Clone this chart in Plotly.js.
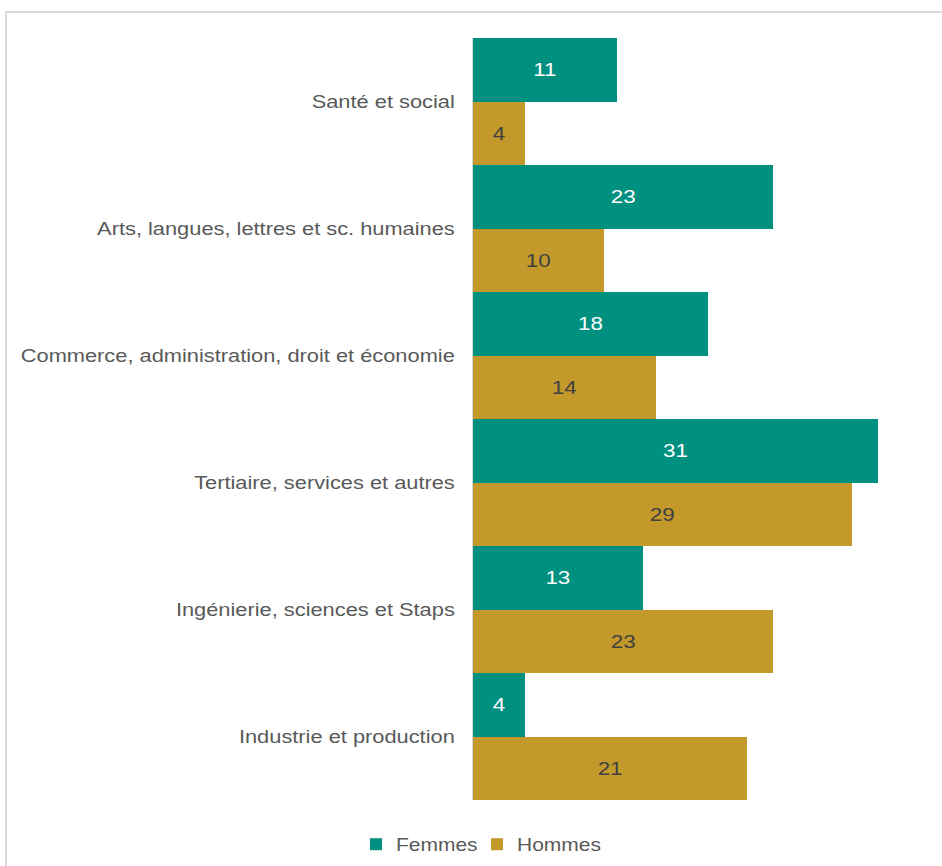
<!DOCTYPE html>
<html>
<head>
<meta charset="utf-8">
<script src="https://cdn.plot.ly/plotly-3.0.1.min.js"></script>
<style>
html,body{margin:0;padding:0;background:#fff;overflow:hidden;}
#frame{position:absolute;left:5px;top:11px;width:960px;height:900px;border:2px solid #d9d9d9;box-sizing:border-box;}
#chart{position:absolute;left:0;top:0;width:942px;height:866px;}
</style>
</head>
<body>
<div id="frame"></div>
<div id="chart"></div>
<script>
const categories = [
  "Santé et social",
  "Arts, langues, lettres et sc. humaines",
  "Commerce, administration, droit et économie",
  "Tertiaire, services et autres",
  "Ingénierie, sciences et Staps",
  "Industrie et production"
];
const femmes = [11, 23, 18, 31, 13, 4];
const hommes = [4, 10, 14, 29, 23, 21];
const seriesNames = ["Femmes", "Hommes"];

const font = "Liberation Sans, Arial, sans-serif";

const traces = [
  {
    type: "bar", orientation: "h", name: seriesNames[0],
    y: categories, x: femmes,
    marker: {color: "#00907F"},
    text: femmes.map(String), textposition: "inside", insidetextanchor: "middle",
    textfont: {color: "#ffffff", size: 19, family: font},
    hoverinfo: "x+name"
  },
  {
    type: "bar", orientation: "h", name: seriesNames[1],
    y: categories, x: hommes,
    marker: {color: "#C3992B"},
    text: hommes.map(String), textposition: "inside", insidetextanchor: "middle",
    textfont: {color: "#404040", size: 19, family: font},
    hoverinfo: "x+name"
  }
];

const layout = {
  width: 942, height: 866,
  margin: {l: 473, r: 12, t: 38, b: 66, pad: 0},
  paper_bgcolor: "rgba(0,0,0,0)",
  plot_bgcolor: "rgba(0,0,0,0)",
  barmode: "group", bargap: 0, bargroupgap: 0,
  font: {family: font, color: "#595959", size: 18},
  xaxis: {range: [0, 35], showgrid: false, zeroline: false, showticklabels: false, showline: false, ticks: ""},
  yaxis: {
    autorange: "reversed", showgrid: false, zeroline: false,
    showline: true, linecolor: "#d9d9d9", linewidth: 1.5,
    ticks: "", ticklabelstandoff: 13,
    tickfont: {size: 18.5, color: "#595959", family: font}
  },
  showlegend: true,
  legend: {
    orientation: "h", xref: "container", yref: "container",
    x: 356 / 942, xanchor: "left", y: 0.025, yanchor: "middle",
    font: {size: 17.5, color: "#595959", family: font},
    itemwidth: 30, traceorder: "normal",
    entrywidth: 76, entrywidthmode: "pixels"
  }
};

function stretch(sel, s, anchor) {
  document.querySelectorAll(sel).forEach(el => {
    const bb = el.getBBox();
    const ax = anchor === "end" ? bb.x + bb.width : anchor === "middle" ? bb.x + bb.width / 2 : bb.x;
    const t = el.getAttribute("transform") || "";
    el.setAttribute("transform", t + " translate(" + ax + ",0) scale(" + s + ",1) translate(" + (-ax) + ",0)");
  });
}

Plotly.newPlot("chart", traces, layout, {displayModeBar: false, staticPlot: true}).then(() => {
  stretch("#chart .ytick text", 1.18, "end");
  stretch("#chart .bartext", 1.18, "middle");
  stretch("#chart .legendtext", 1.2, "start");
  document.querySelectorAll("#chart .legend [clip-path]").forEach(e => e.removeAttribute("clip-path"));
});
</script>
</body>
</html>
